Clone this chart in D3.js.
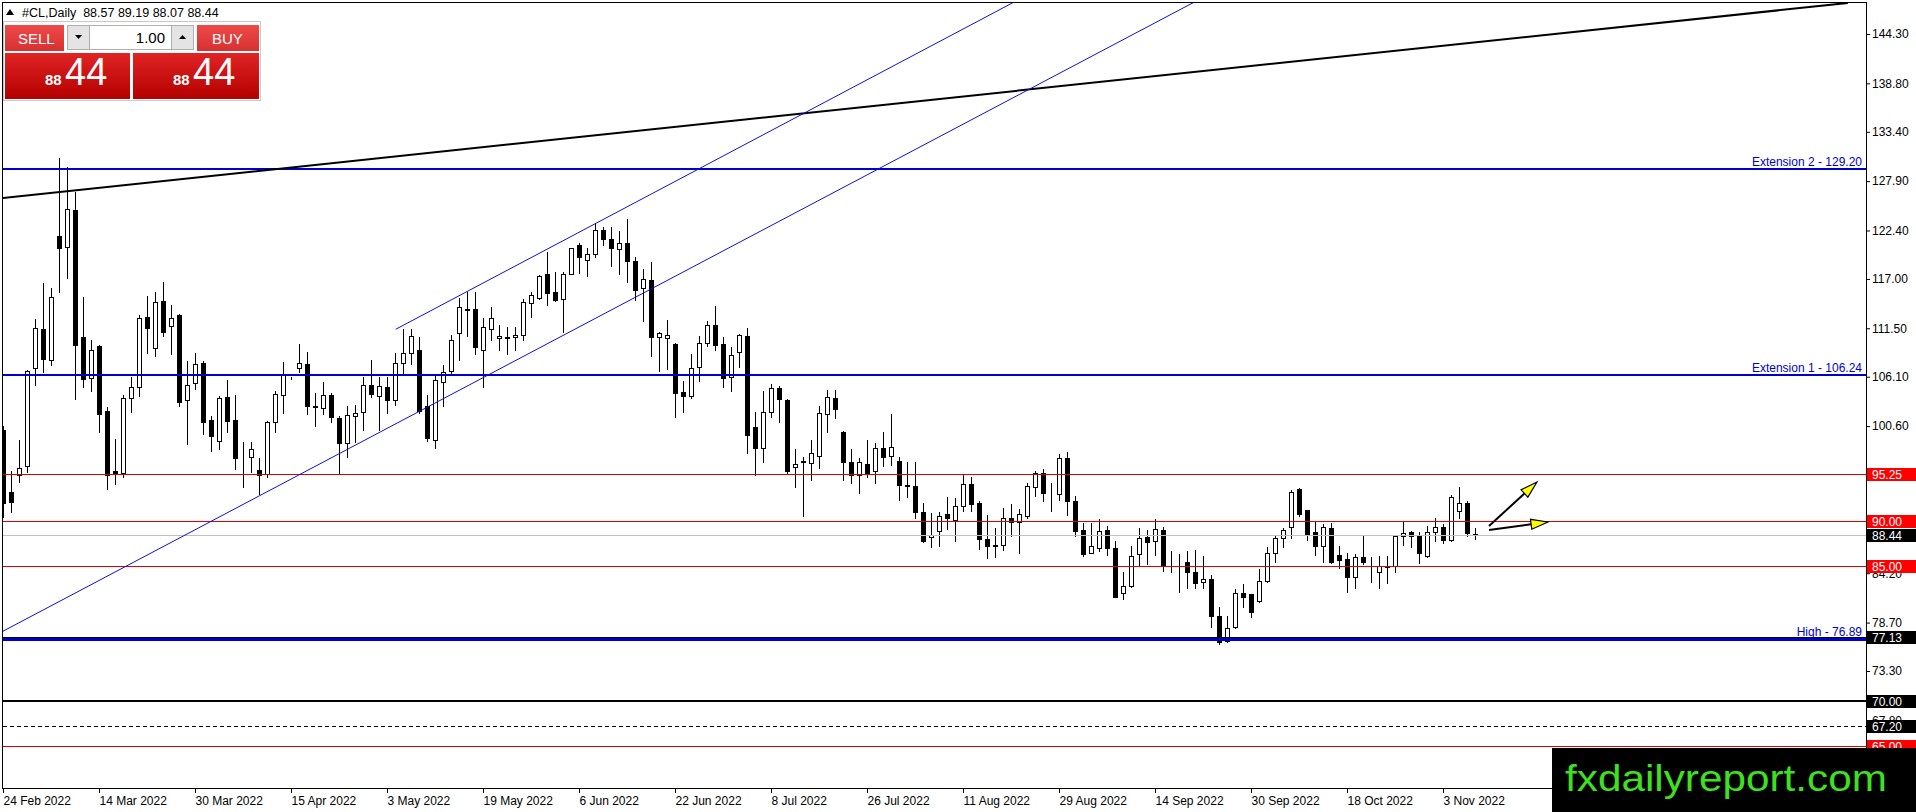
<!DOCTYPE html>
<html>
<head>
<meta charset="utf-8">
<script src="https://cdn.jsdelivr.net/npm/d3@7/dist/d3.min.js"></script>
<style>
  html, body { margin: 0; padding: 0; background: #fff; }
  svg { display: block; font-family: 'Liberation Sans', Arial, sans-serif; }
</style>
</head>
<body>
<svg id="chart" width="1916" height="812"></svg>
<script>
// daily bars #CL, 24 Feb 2022 .. 9 Nov 2022 (one weekday per bar)
const opens = [
  100.2, 93.3, 95.1, 96.2, 107.1, 111.4, 108.0, 121.8, 120.6, 124.7,
  110.5, 106.0, 109.5, 102.3, 95.6, 95.4, 103.7, 105.0, 112.8, 109.3,
  114.5, 111.7, 113.0, 103.5, 105.4, 107.6, 101.3, 98.9, 103.8, 101.3,
  97.2, 97.2, 95.7, 95.3, 101.0, 104.1, 106.0, 107.1, 107.5, 102.8,
  102.6, 104.1, 101.5, 98.7, 101.7, 102.2, 105.2, 104.0, 105.0, 103.5,
  107.6, 108.8, 109.1, 102.8, 99.1, 105.5, 106.7, 111.0, 113.7, 113.7,
  109.1, 111.4, 110.4, 110.5, 110.5, 110.7, 114.3, 114.9, 117.6, 115.5,
  114.8, 117.6, 120.8, 119.1, 119.8, 122.4, 121.5, 120.3, 121.0, 119.0,
  116.0, 116.9, 110.5, 110.4, 109.8, 104.4, 104.0, 107.2, 109.9, 111.9,
  109.8, 106.1, 108.9, 110.6, 100.5, 98.2, 102.2, 104.8, 103.5, 96.0,
  96.7, 96.5, 97.3, 101.9, 103.7, 99.9, 96.6, 95.2, 96.4, 95.6,
  98.2, 97.3, 96.7, 94.0, 93.9, 91.0, 88.2, 88.9, 90.8, 90.1,
  91.7, 94.2, 92.0, 88.0, 87.2, 87.4, 90.4, 89.9, 90.6, 93.8,
  95.4, 93.3, 93.0, 97.0, 92.3, 89.0, 86.5, 87.0, 89.0, 87.0,
  82.0, 82.8, 86.3, 88.2, 87.8, 89.0, 85.35, 85.35, 85.4, 84.3,
  83.2, 83.6, 79.4, 76.6, 78.2, 82.0, 81.9, 81.1, 83.3, 86.4,
  88.1, 89.3, 93.6, 91.2, 88.8, 87.2, 89.2, 86.2, 85.8, 83.8,
  86.0, 85.15, 84.3, 85.0, 85.0, 88.3, 88.8, 88.4, 86.1, 88.8,
  89.3, 87.9, 91.1, 92.0, 88.57
]
const highs = [
  100.6, 95.6, 99.1, 106.8, 112.5, 116.6, 116.0, 130.5, 129.5, 126.7,
  115.0, 110.2, 109.6, 102.7, 99.2, 104.1, 106.1, 113.0, 115.1, 115.5,
  116.7, 114.1, 113.1, 107.8, 108.8, 107.8, 101.7, 104.0, 105.7, 104.1,
  98.8, 98.8, 97.0, 101.2, 104.5, 107.7, 106.1, 109.8, 108.9, 104.3,
  105.5, 104.3, 101.7, 102.8, 103.0, 106.1, 108.0, 106.1, 106.1, 108.8,
  111.4, 111.4, 110.5, 104.1, 106.2, 107.4, 110.7, 114.9, 115.6, 115.5,
  112.7, 113.9, 111.9, 111.6, 111.6, 114.8, 115.6, 117.4, 120.0, 117.8,
  117.8, 120.5, 121.0, 120.4, 123.2, 122.8, 122.8, 122.3, 123.7, 119.4,
  118.1, 118.9, 111.1, 112.4, 109.9, 105.6, 108.6, 110.6, 112.3, 114.0,
  110.5, 109.4, 110.9, 111.5, 102.2, 104.5, 105.3, 105.1, 103.6, 98.0,
  97.1, 99.1, 102.8, 104.6, 104.6, 100.0, 98.0, 97.0, 99.0, 98.7,
  99.9, 101.9, 97.2, 96.6, 96.6, 92.0, 90.9, 91.0, 92.7, 92.6,
  95.1, 94.9, 92.2, 90.7, 89.2, 91.5, 91.9, 91.4, 94.3, 95.6,
  95.8, 94.3, 97.5, 97.7, 92.8, 89.8, 89.8, 90.3, 89.5, 87.8,
  84.3, 87.2, 89.2, 89.0, 90.2, 89.3, 86.7, 86.3, 86.7, 86.8,
  86.1, 84.0, 80.4, 79.4, 82.4, 83.0, 81.9, 84.7, 87.1, 88.5,
  89.2, 93.5, 93.7, 91.3, 90.0, 89.7, 89.8, 87.2, 86.5, 86.3,
  88.5, 86.0, 86.1, 86.1, 88.5, 89.9, 88.9, 88.8, 89.5, 90.4,
  89.7, 92.9, 93.8, 92.2, 89.19
]
const lows = [
  90.5, 91.0, 94.4, 95.5, 105.2, 106.6, 107.4, 115.5, 117.1, 103.6,
  105.0, 104.5, 99.9, 93.6, 94.1, 94.9, 102.2, 104.0, 108.8, 108.4,
  110.6, 108.6, 102.8, 98.6, 104.7, 99.7, 97.8, 98.1, 99.9, 95.8,
  93.8, 95.5, 93.0, 94.9, 99.9, 102.1, 105.9, 106.6, 102.0, 100.6,
  102.0, 101.0, 95.3, 97.1, 98.8, 100.2, 103.8, 100.2, 102.1, 102.9,
  106.5, 107.5, 102.1, 98.9, 98.2, 102.8, 106.4, 108.0, 110.6, 108.6,
  105.0, 110.2, 109.1, 108.6, 109.1, 110.2, 112.8, 114.8, 114.1, 114.5,
  111.1, 117.5, 117.7, 117.3, 119.4, 120.8, 118.4, 117.5, 116.7, 114.7,
  112.3, 108.4, 106.7, 107.0, 101.6, 102.2, 103.7, 105.6, 109.5, 109.1,
  105.0, 104.5, 107.2, 97.6, 95.2, 96.6, 101.6, 101.0, 95.3, 93.8,
  90.6, 94.6, 95.9, 99.9, 101.5, 94.6, 94.3, 93.1, 94.9, 94.3,
  96.1, 96.3, 92.4, 92.7, 90.4, 87.7, 87.1, 87.2, 89.1, 87.8,
  91.1, 91.1, 86.9, 85.9, 86.0, 86.8, 88.3, 86.5, 90.4, 92.8,
  92.2, 91.1, 92.4, 90.7, 88.3, 86.1, 86.4, 86.7, 86.2, 81.5,
  81.3, 82.7, 85.1, 85.2, 86.2, 84.5, 84.3, 82.1, 82.5, 82.6,
  82.6, 78.2, 76.3, 76.5, 78.1, 80.4, 79.3, 81.0, 83.2, 85.4,
  87.1, 88.1, 90.6, 87.9, 86.2, 85.5, 85.3, 84.8, 82.1, 82.6,
  85.2, 83.2, 82.6, 83.1, 84.3, 87.3, 87.1, 85.3, 86.0, 87.8,
  87.6, 87.8, 90.4, 88.4, 88.07
]
const closes = [
  92.0, 92.1, 95.9, 106.7, 111.5, 108.1, 115.0, 120.4, 124.8, 109.6,
  105.8, 109.1, 101.9, 95.2, 95.4, 103.7, 105.0, 112.7, 111.5, 114.4,
  111.1, 112.7, 103.3, 105.2, 107.5, 101.1, 99.5, 103.7, 101.2, 97.0,
  97.1, 98.0, 95.2, 101.0, 104.2, 106.4, 106.0, 107.6, 102.8, 102.7,
  104.1, 101.6, 98.7, 101.8, 102.1, 105.2, 104.2, 105.1, 103.5, 107.6,
  108.7, 110.6, 102.3, 99.3, 105.7, 106.6, 110.2, 113.9, 113.5, 109.4,
  111.6, 112.7, 110.6, 110.4, 110.8, 114.4, 115.2, 117.3, 115.4, 114.7,
  117.6, 120.4, 119.5, 119.8, 122.4, 121.5, 120.5, 121.0, 119.0, 115.8,
  117.0, 110.5, 111.0, 110.8, 104.3, 104.0, 107.1, 109.9, 111.9, 109.6,
  106.0, 108.5, 110.7, 99.6, 98.2, 102.2, 104.9, 103.6, 95.6, 96.4,
  96.6, 97.6, 102.1, 103.8, 102.5, 96.6, 95.2, 96.6, 95.4, 98.2,
  97.2, 98.3, 94.0, 93.9, 91.0, 87.8, 88.5, 90.6, 90.4, 91.7,
  94.1, 91.9, 88.0, 87.2, 87.4, 90.4, 89.9, 90.8, 93.9, 95.4,
  93.1, 93.2, 97.0, 92.3, 88.9, 86.3, 87.2, 88.9, 87.0, 81.6,
  82.8, 86.1, 88.1, 87.7, 89.1, 85.1, 85.3, 85.3, 84.3, 83.1,
  83.6, 79.4, 76.5, 78.1, 82.0, 81.6, 79.9, 83.3, 86.4, 88.1,
  89.0, 93.3, 90.8, 88.5, 87.2, 89.3, 85.5, 85.7, 83.8, 86.0,
  85.4, 85.1, 85.0, 84.9, 88.3, 88.7, 88.3, 86.5, 88.8, 89.4,
  87.9, 92.7, 92.0, 88.7, 88.44
]

// x axis labels, every 12th bar
const dateBars = [0, 12, 24, 36, 48, 60, 72, 84, 96, 108, 120, 132, 144, 156, 168, 180]
const dateLabels = ['24 Feb 2022', '14 Mar 2022', '30 Mar 2022', '15 Apr 2022', '3 May 2022', '19 May 2022',
  '6 Jun 2022', '22 Jun 2022', '8 Jul 2022', '26 Jul 2022', '11 Aug 2022', '29 Aug 2022',
  '14 Sep 2022', '30 Sep 2022', '18 Oct 2022', '3 Nov 2022']

// price axis labels (95.20 and 89.70 sit fully under the price tags, so only their ticks are drawn)
const priceTicks = [144.30, 138.80, 133.40, 127.90, 122.40, 117.00, 111.50, 106.10, 100.60,
  95.20, 89.70, 84.20, 78.70, 73.30, 67.80]
const hiddenTicks = [95.20, 89.70]

// horizontal levels
const levelPrices = [129.20, 106.24, 95.25, 90.00, 85.00, 88.44, 77.13, 76.89, 70.00, 67.20, 65.00]
const levelNames = ['Extension 2 - 129.20', 'Extension 1 - 106.24', '', '', '', '', '', 'High - 76.89', '', '', '']

// price tags on the axis
const tagPrices = [95.25, 90.00, 88.44, 85.00, 77.13, 70.00, 67.20, 65.00]

// trend lines: [bar, price, bar, price]
const trendLines = [
  [-0.125, 126.02, 230.6, 147.76],
  [-0.125, 77.68, 148.94, 147.87],
  [49.09, 111.39, 126.4, 147.87]
]
// arrows: [bar, price] -> [bar, price]
const arrows = [
  [185.75, 89.46, 191.75, 94.37],
  [185.75, 89.02, 193.12, 89.91]
]

const header = '#CL,Daily  88.57 89.19 88.07 88.44'
const bidText = { big: '44', small: '88' }

// ---------------------------------------------------------------
const width = 1916, height = 812
const plotRight = 1866, plotBottom = 788

const x = d3.scaleLinear().domain([0, 180]).range([3, 1443])
const y = d3.scaleLinear().domain([144.3, 65.0]).range([34, 745.5])

const svg = d3.select('#chart')
svg.append('rect').attr('width', width).attr('height', height).attr('fill', '#fff')

svg.append('defs').append('clipPath').attr('id', 'plot-clip')
  .append('rect').attr('x', 3).attr('y', 3).attr('width', plotRight - 3).attr('height', plotBottom - 3)

const bars = opens.map((o, i) => ({ i, o, h: highs[i], l: lows[i], c: closes[i] }))

// candles
const candleG = svg.append('g')
  .attr('clip-path', 'url(#plot-clip)')
  .attr('shape-rendering', 'crispEdges')

const candle = candleG.selectAll('g').data(bars).join('g')

candle.append('line')
  .attr('x1', d => x(d.i) + 0.5)
  .attr('x2', d => x(d.i) + 0.5)
  .attr('y1', d => Math.round(y(d.h)))
  .attr('y2', d => Math.round(y(d.l)) + 1)
  .attr('stroke', '#000')

candle.append('rect')
  .attr('x', d => x(d.i) - 1.5)
  .attr('y', d => Math.round(y(Math.max(d.o, d.c))) + 0.5)
  .attr('width', 4)
  .attr('height', d => Math.round(y(Math.min(d.o, d.c))) - Math.round(y(Math.max(d.o, d.c))))
  .attr('fill', d => d.c >= d.o ? '#fff' : '#000')
  .attr('stroke', '#000')

// horizontal levels
const levelStyle = [
  { color: '#0000cd', w: 2 }, { color: '#0000cd', w: 2 },
  { color: '#dd0000', w: 1 }, { color: '#dd0000', w: 1 }, { color: '#dd0000', w: 1 },
  { color: '#c0c0c0', w: 1 },
  { color: '#000', w: 1 }, { color: '#0000cd', w: 3 },
  { color: '#000', w: 2 }, { color: '#000', w: 1, dash: '4,3' },
  { color: '#dd0000', w: 1 }
]

const objG = svg.append('g').attr('clip-path', 'url(#plot-clip)')

objG.selectAll('line.level')
  .data(levelPrices)
  .join('line')
  .attr('class', 'level')
  .attr('x1', 3)
  .attr('x2', plotRight)
  .attr('y1', (d, i) => Math.round(y(d)) + (levelStyle[i].w % 2 ? 0.5 : 0))
  .attr('y2', (d, i) => Math.round(y(d)) + (levelStyle[i].w % 2 ? 0.5 : 0))
  .attr('stroke', (d, i) => levelStyle[i].color)
  .attr('stroke-width', (d, i) => levelStyle[i].w)
  .attr('stroke-dasharray', (d, i) => levelStyle[i].dash || null)
  .attr('shape-rendering', 'crispEdges')

objG.selectAll('text.level-name')
  .data(levelPrices.map((p, i) => ({ p, name: levelNames[i] })).filter(d => d.name))
  .join('text')
  .attr('class', 'level-name')
  .attr('x', plotRight - 4)
  .attr('y', d => y(d.p) - 3)
  .attr('text-anchor', 'end')
  .attr('fill', '#0000cd')
  .attr('font-size', '12px')
  .text(d => d.name)

// trend lines
objG.selectAll('line.trend')
  .data(trendLines)
  .join('line')
  .attr('class', 'trend')
  .attr('x1', d => x(d[0]))
  .attr('y1', d => y(d[1]))
  .attr('x2', d => x(d[2]))
  .attr('y2', d => y(d[3]))
  .attr('stroke', (d, i) => i === 0 ? '#000' : '#1010d0')
  .attr('stroke-width', (d, i) => i === 0 ? 2 : 1)

// arrows
arrows.forEach(a => {
  const x0 = x(a[0]), y0 = y(a[1]), x1 = x(a[2]), y1 = y(a[3])
  const ang = Math.atan2(y1 - y0, x1 - x0)
  const len = 17, half = 5
  const bx = x1 - len * Math.cos(ang), by = y1 - len * Math.sin(ang)
  objG.append('line')
    .attr('x1', x0).attr('y1', y0).attr('x2', bx).attr('y2', by)
    .attr('stroke', '#000').attr('stroke-width', 2)
  const pts = [
    [x1, y1],
    [bx + half * Math.sin(ang), by - half * Math.cos(ang)],
    [bx - half * Math.sin(ang), by + half * Math.cos(ang)]
  ]
  objG.append('polygon')
    .attr('points', pts.map(p => p.join(',')).join(' '))
    .attr('fill', '#ffff00')
    .attr('stroke', '#000')
    .attr('stroke-width', 1.2)
})

// frame
svg.append('rect')
  .attr('x', 2.5).attr('y', 2.5)
  .attr('width', plotRight - 2).attr('height', plotBottom - 2)
  .attr('fill', 'none').attr('stroke', '#000')
  .attr('shape-rendering', 'crispEdges')

// price axis
const yAxis = svg.append('g')
  .attr('transform', `translate(${plotRight},0)`)
  .call(d3.axisRight(y).tickValues(priceTicks).tickSize(4).tickPadding(2)
    .tickFormat(d => hiddenTicks.includes(d) ? '' : d3.format('.2f')(d)))
yAxis.select('.domain').remove()
yAxis.selectAll('text')
  .attr('font-family', "'Liberation Sans', Arial, sans-serif")
  .attr('font-size', '12px')
  .attr('fill', '#000')
yAxis.selectAll('line').attr('stroke', '#000')

// date axis
const xAxis = svg.append('g')
  .attr('transform', `translate(0,${plotBottom})`)
  .call(d3.axisBottom(x).tickValues(dateBars).tickSize(5).tickPadding(3).tickFormat((d, i) => dateLabels[i]))
xAxis.select('.domain').remove()
xAxis.selectAll('text')
  .attr('text-anchor', 'start')
  .attr('x', 0)
  .attr('font-family', "'Liberation Sans', Arial, sans-serif")
  .attr('font-size', '12px')
  .attr('fill', '#000')
xAxis.selectAll('line').attr('stroke', '#000')

// price tags
const redTags = new Set([95.25, 90.00, 85.00, 65.00])
const tag = svg.append('g').selectAll('g')
  .data(tagPrices)
  .join('g')
tag.append('rect')
  .attr('x', plotRight + 1)
  .attr('y', d => Math.round(y(d)) - 6)
  .attr('width', width - plotRight - 1)
  .attr('height', 13)
  .attr('fill', d => redTags.has(d) ? '#ff0000' : '#000')
tag.append('text')
  .attr('x', plotRight + 6)
  .attr('y', d => Math.round(y(d)) + 0.5)
  .attr('dy', '0.35em')
  .attr('fill', '#fff')
  .attr('font-size', '12px')
  .text(d => d.toFixed(2))

// header line
svg.append('polygon').attr('points', '6,15 14,15 10,9').attr('fill', '#000')
svg.append('text')
  .attr('x', 22).attr('y', 17)
  .attr('font-size', '12.5px')
  .attr('fill', '#000')
  .attr('xml:space', 'preserve')
  .style('white-space', 'pre')
  .text(header)

// one click trading panel
const panel = svg.append('g')
const defs = svg.select('defs')
const grad = defs.append('linearGradient').attr('id', 'bigRed').attr('x1', 0).attr('y1', 0).attr('x2', 0).attr('y2', 1)
grad.append('stop').attr('offset', '0%').attr('stop-color', '#e02424')
grad.append('stop').attr('offset', '100%').attr('stop-color', '#b40000')
const grad2 = defs.append('linearGradient').attr('id', 'btnRed').attr('x1', 0).attr('y1', 0).attr('x2', 0).attr('y2', 1)
grad2.append('stop').attr('offset', '0%').attr('stop-color', '#ee4a4a')
grad2.append('stop').attr('offset', '100%').attr('stop-color', '#d83030')

panel.append('rect').attr('x', 3.5).attr('y', 21.5).attr('width', 257).attr('height', 79)
  .attr('fill', '#fff').attr('stroke', '#c8c8c8')

panel.append('rect').attr('x', 5).attr('y', 25).attr('width', 59).attr('height', 26).attr('fill', 'url(#btnRed)')
panel.append('text').attr('x', 18).attr('y', 44).attr('fill', '#fff').attr('font-size', '15px').text('SELL')
panel.append('rect').attr('x', 197).attr('y', 25).attr('width', 62).attr('height', 26).attr('fill', 'url(#btnRed)')
panel.append('text').attr('x', 212).attr('y', 44).attr('fill', '#fff').attr('font-size', '15px').text('BUY')

panel.append('rect').attr('x', 67.5).attr('y', 25.5).attr('width', 22).attr('height', 24)
  .attr('fill', '#e4e4e4').attr('stroke', '#b0b0b0')
panel.append('polygon').attr('points', '75,35 82,35 78.5,39').attr('fill', '#000')
panel.append('rect').attr('x', 89.5).attr('y', 25.5).attr('width', 82).attr('height', 24)
  .attr('fill', '#fff').attr('stroke', '#b0b0b0')
panel.append('text').attr('x', 165).attr('y', 43).attr('text-anchor', 'end').attr('font-size', '15px').attr('fill', '#000').text('1.00')
panel.append('rect').attr('x', 171.5).attr('y', 25.5).attr('width', 22).attr('height', 24)
  .attr('fill', '#e4e4e4').attr('stroke', '#b0b0b0')
panel.append('polygon').attr('points', '179,39 186,39 182.5,35').attr('fill', '#000')

panel.append('rect').attr('x', 5).attr('y', 53).attr('width', 125).attr('height', 46).attr('fill', 'url(#bigRed)')
panel.append('rect').attr('x', 133).attr('y', 53).attr('width', 126).attr('height', 46).attr('fill', 'url(#bigRed)')
;[[45, 65], [173, 193]].forEach(([sx, bx]) => {
  panel.append('text').attr('x', sx).attr('y', 85).attr('fill', '#fff').attr('font-size', '15px').attr('font-weight', 'bold').text(bidText.small)
  panel.append('text').attr('x', bx).attr('y', 85).attr('fill', '#fff').attr('font-size', '38px').text(bidText.big)
})

// watermark
svg.append('rect').attr('x', 1552).attr('y', 748).attr('width', width - 1552).attr('height', height - 748).attr('fill', '#000')
svg.append('text')
  .attr('x', 1565).attr('y', 791)
  .attr('font-size', '37px')
  .attr('fill', '#3fe01f')
  .attr('textLength', 322)
  .attr('lengthAdjust', 'spacingAndGlyphs')
  .text('fxdailyreport.com')
</script>
</body>
</html>
